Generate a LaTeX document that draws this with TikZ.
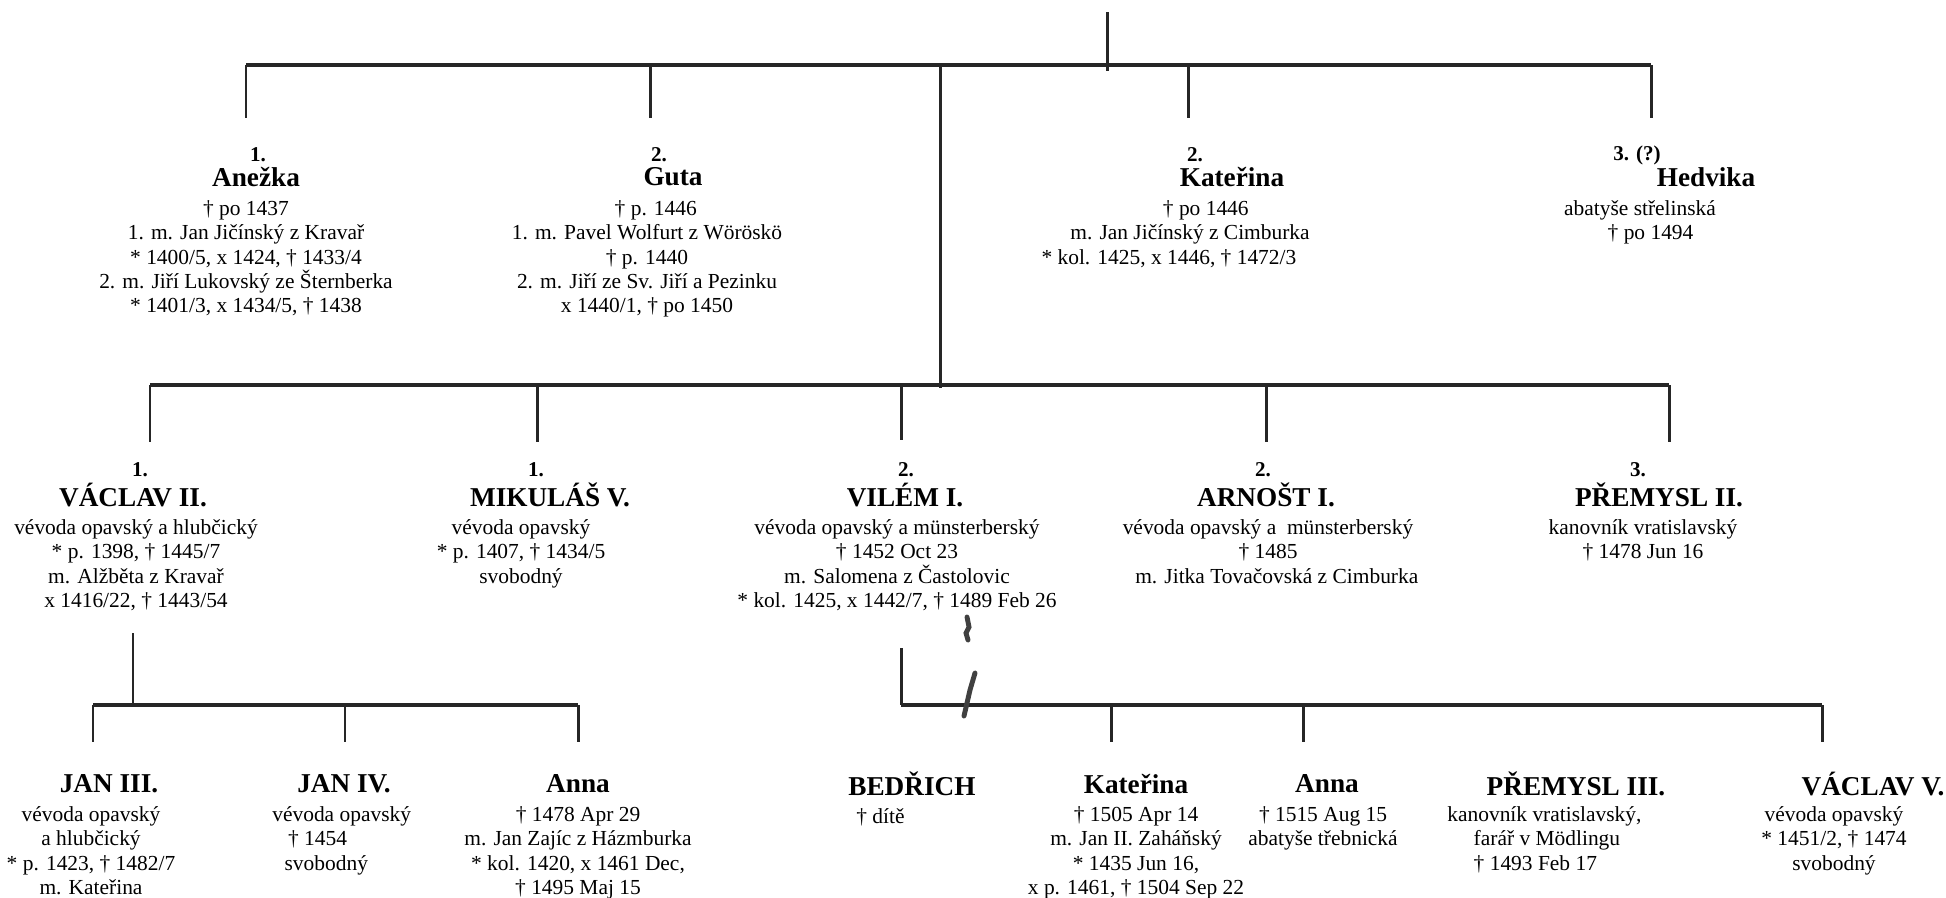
\documentclass[tikz,border=0pt]{standalone}
\usepackage{fontspec}
\setmainfont{Liberation Serif}
\tikzset{num node/.style={font=\fontsize{12}{14}\selectfont\bfseries, inner sep=0pt},
  name node/.style={font=\fontsize{15.5}{17}\selectfont\bfseries, inner sep=0pt},
  info node/.style={font=\fontsize{12.2}{13.9}\selectfont, align=center, inner sep=0pt, anchor=north, execute at begin node=\strut},
  bar/.style={draw=black!85, line width=2.8pt},
  drop/.style={draw=black!85, line width=1.7pt},
  scribble/.style={draw=black!75, line width=2.8pt, line cap=round}}

\begin{document}
\begin{tikzpicture}[x=0.02cm, y=-0.02cm]
      \useasboundingbox (0,0) rectangle (1946,897);
      % first row
      \node[num node] (anezka num) at (258,155) {1.};
      \node[name node] (anezka) at (256,177) {Anežka};
      \node[info node] (anezka info) at (246,200) {† po 1437\\1. m. Jan Jičínský z Kravař\\{*} 1400/5, x 1424, † 1433/4\\2. m. Jiří Lukovský ze Šternberka\\{*} 1401/3, x 1434/5, † 1438};
      \node[num node] (guta num) at (659,155) {2.};
      \node[name node] (guta) at (673,177) {Guta};
      \node[info node] (guta info) at (647,200) {\hspace*{10pt}† p. 1446\\1. m. Pavel Wolfurt z Wöröskö\\† p. 1440\\2. m. Jiří ze Sv. Jiří a Pezinku\\x 1440/1, † po 1450};
      \node[num node] (katerina num) at (1195,155) {2.};
      \node[name node] (katerina) at (1232,177) {Kateřina};
      \node[info node] (katerina info) at (1190,200) {\hspace*{18pt}† po 1446\\m. Jan Jičínský z Cimburka\\{*} kol. 1425, x 1446, † 1472/3\rule{24pt}{0pt}};
      \node[num node] (hedvika num) at (1637,155) {3. (?)};
      \node[name node] (hedvika) at (1706,177) {Hedvika};
      \node[info node] (hedvika info) at (1640,200) {abatyše střelinská\\\hspace*{12pt}† po 1494};
      % second row
      \node[num node] (vaclav num) at (140,470) {1.};
      \node[name node] (vaclav) at (133,495) {VÁCLAV II.};
      \node[info node] (vaclav info) at (136,519) {vévoda opavský a hlubčický\\{*} p. 1398, † 1445/7\\m. Alžběta z Kravař\\x 1416/22, † 1443/54};
      \node[num node] (mikulas num) at (536,470) {1.};
      \node[name node] (mikulas) at (550,495) {MIKULÁŠ V.};
      \node[info node] (mikulas info) at (521,519) {vévoda opavský\\{*} p. 1407, † 1434/5\\svobodný};
      \node[num node] (vilem num) at (906,470) {2.};
      \node[name node] (vilem) at (905,495) {VILÉM I.};
      \node[info node] (vilem info) at (897,519) {vévoda opavský a münsterberský\\† 1452 Oct 23\\m. Salomena z Častolovic\\{*} kol. 1425, x 1442/7, † 1489 Feb 26};
      \node[num node] (arnost num) at (1263,470) {2.};
      \node[name node] (arnost) at (1266,495) {ARNOŠT I.};
      \node[info node] (arnost info) at (1268,519) {vévoda opavský a\ \ münsterberský\\† 1485\\\hspace*{10pt}m. Jitka Tovačovská z Cimburka};
      \node[num node] (premysl num) at (1638,470) {3.};
      \node[name node] (premysl) at (1659,495) {PŘEMYSL II.};
      \node[info node] (premysl info) at (1643,519) {kanovník vratislavský\\† 1478 Jun 16};
      % third row
      \node[name node] (jan3) at (109,784) {JAN III.};
      \node[info node] (jan3 info) at (91,806) {vévoda opavský\\a hlubčický\\{*} p. 1423, † 1482/7\\m. Kateřina};
      \node[name node] (jan4) at (344,784) {JAN IV.};
      \node[info node, align=left, anchor=north west] (jan4 info) at (272,806) {vévoda opavský\\\hspace*{9pt}† 1454\\\hspace*{7pt}svobodný};
      \node[name node] (anna a) at (578,784) {Anna};
      \node[info node] (anna a info) at (578,806) {† 1478 Apr 29\\m. Jan Zajíc z Házmburka\\{*} kol. 1420, x 1461 Dec,\\† 1495 Maj 15};
      \node[name node, anchor=west] (bedrich) at (848,784) {BEDŘICH};
      \node[info node, anchor=north west] (bedrich info) at (856,806) {† dítě};
      \node[name node] (katerina b) at (1136,784) {Kateřina};
      \node[info node] (katerina b info) at (1136,806) {† 1505 Apr 14\\m. Jan II. Zaháňský\\{*} 1435 Jun 16,\\x p. 1461, † 1504 Sep 22};
      \node[name node] (anna b) at (1327,784) {Anna};
      \node[info node] (anna b info) at (1323,806) {† 1515 Aug 15\\abatyše třebnická};
      \node[name node] (premysl3) at (1576,784) {PŘEMYSL III.};
      \node[info node, align=left, anchor=north west] (premysl3 info) at (1447,806) {kanovník vratislavský,\\\hspace*{15pt}farář v Mödlingu\\\hspace*{15pt}† 1493 Feb 17};
      \node[name node] (vaclav5) at (1873,784) {VÁCLAV V.};
      \node[info node] (vaclav5 info) at (1834,806) {vévoda opavský\\{*} 1451/2, † 1474\\svobodný};
      % lines of the tree
      \coordinate (root) at (1107,12);
      \coordinate (root end) at (1107,71);
      \coordinate (g1 w) at (246,65);
      \coordinate (g1 e) at (1651,65);
      \coordinate (g1 mid) at (940,65);
      \coordinate (anezka top) at (246,118);
      \coordinate (guta top) at (650,118);
      \coordinate (katerina top) at (1188,118);
      \coordinate (hedvika top) at (1651,118);
      \coordinate (g2 mid) at (940,388);
      \coordinate (g2 w) at (150,385);
      \coordinate (g2 e) at (1669,385);
      \coordinate (vaclav top) at (150,442);
      \coordinate (mikulas top) at (537,442);
      \coordinate (vilem top) at (901,440);
      \coordinate (arnost top) at (1266,442);
      \coordinate (premysl top) at (1669,442);
      \coordinate (vaclav stem) at (133,633);
      \coordinate (g3a w) at (93,705);
      \coordinate (g3a e) at (578,705);
      \coordinate (jan3 top) at (93,742);
      \coordinate (jan4 top) at (345,742);
      \coordinate (anna a top) at (578,742);
      \coordinate (vilem stem) at (901,648);
      \coordinate (g3b w) at (901,705);
      \coordinate (g3b e) at (1822,705);
      \coordinate (katerina b top) at (1111,742);
      \coordinate (anna b top) at (1303,742);
      \coordinate (vaclav5 top) at (1822,742);
      \draw[bar] (g1 w) -- (g1 e);
      \draw[drop] (root) -- (root end);
      \draw[drop] (g1 w) -- (anezka top);
      \draw[drop] (g1 w -| guta top) -- (guta top);
      \draw[drop] (g1 w -| katerina top) -- (katerina top);
      \draw[drop] (g1 e) -- (hedvika top);
      \draw[drop] (g1 mid) -- (g2 mid);
      \draw[bar] (g2 w) -- (g2 e);
      \draw[drop] (g2 w) -- (vaclav top);
      \draw[drop] (g2 w -| mikulas top) -- (mikulas top);
      \draw[drop] (g2 w -| vilem top) -- (vilem top);
      \draw[drop] (g2 w -| arnost top) -- (arnost top);
      \draw[drop] (g2 e) -- (premysl top);
      \draw[drop] (vaclav stem) -- (vaclav stem |- g3a w);
      \draw[bar] (g3a w) -- (g3a e);
      \draw[drop] (g3a w) -- (jan3 top);
      \draw[drop] (g3a w -| jan4 top) -- (jan4 top);
      \draw[drop] (g3a e) -- (anna a top);
      \draw[drop] (vilem stem) -- (g3b w);
      \draw[bar] (g3b w) -- (g3b e);
      \draw[drop] (g3b w -| katerina b top) -- (katerina b top);
      \draw[drop] (g3b w -| anna b top) -- (anna b top);
      \draw[drop] (g3b e) -- (vaclav5 top);
      % pen marks
      \draw[scribble] (967,617) -- (969,627) -- (966,633) -- (968,640);
      \draw[scribble] (975,673) -- (970,690) -- (964,716);
\end{tikzpicture}
\end{document}
